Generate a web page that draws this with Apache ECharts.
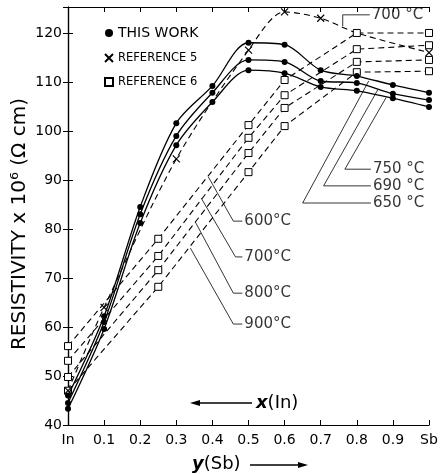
<!DOCTYPE html>
<html>
<head>
<meta charset="utf-8">
<script src="https://cdn.jsdelivr.net/npm/echarts@6/dist/echarts.min.js"></script>
<style>
html,body{margin:0;padding:0;background:#fff;}
#chart{width:441px;height:474px;}
</style>
</head>
<body>
<div id="chart"></div>
<script>
// x 轴：0 = In, 1 = Sb
var xTickLabels = ['In', '0.1', '0.2', '0.3', '0.4', '0.5', '0.6', '0.7', '0.8', '0.9', 'Sb'];

// THIS WORK (实线 + 实心点)
var workX = [0, 0.1, 0.2, 0.3, 0.4, 0.5, 0.6, 0.7, 0.8, 0.9, 1.0];
var work650 = [46.0, 62.2, 84.5, 101.6, 109.2, 118.0, 117.6, 112.4, 111.2, 109.4, 107.8];
var work690 = [44.5, 61.0, 83.0, 99.0, 107.8, 114.5, 114.1, 110.2, 109.8, 107.6, 106.3];
var work750 = [43.3, 59.6, 81.2, 97.1, 105.9, 112.4, 111.8, 109.0, 108.2, 106.7, 104.9];

// REFERENCE 5 (虚线 + x)
var ref5X = [0, 0.1, 0.3, 0.5, 0.6, 0.7, 0.8, 1.0];
var ref5 = [47.0, 64.0, 94.3, 116.5, 124.3, 123.0, 120.0, 116.0];

// REFERENCE 6 (虚线 + 空心方块)
var ref6X = [0, 0.25, 0.5, 0.6, 0.8, 1.0];
var ref6_600 = [56.1, 78.0, 101.2, 110.4, 120.0, 120.0];
var ref6_700 = [53.1, 74.5, 98.6, 107.3, 116.7, 117.5];
var ref6_800 = [49.8, 71.6, 95.5, 104.7, 114.1, 114.5];
var ref6_900 = [47.0, 68.2, 91.6, 101.0, 112.0, 112.2];

function pair(xs, ys) {
    var out = [];
    for (var i = 0; i < xs.length; i++) {
        out.push([xs[i], ys[i]]);
    }
    return out;
}

var FONT = 'DejaVu Sans';
var crossPath = 'path://M0,0L10,10M10,0L0,10';

function workSeries(data) {
    return {
        name: 'THIS WORK',
        type: 'line',
        data: pair(workX, data),
        smooth: 0.3,
        symbol: 'circle',
        symbolSize: 6,
        itemStyle: {color: '#000'},
        lineStyle: {color: '#000', width: 1.3},
        z: 4
    };
}

function ref6Series(data) {
    return {
        name: 'REFERENCE 6',
        type: 'line',
        data: pair(ref6X, data),
        symbol: 'rect',
        symbolSize: 7,
        itemStyle: {color: '#fff', borderColor: '#000', borderWidth: 1},
        lineStyle: {color: '#000', width: 1.1, type: [6, 4]},
        z: 3
    };
}

var ref5Data = pair(ref5X, ref5);
ref5Data[6] = {value: ref5Data[6], symbol: 'none'};

// 引线: 文字端 -> 拐点 -> 箭头端
var leaders = [
    [[0.483, 81.6], [0.458, 81.6], [0.389, 90.6]],
    [[0.483, 74.3], [0.464, 74.3], [0.369, 86.3]],
    [[0.483, 66.9], [0.458, 66.9], [0.353, 81.4]],
    [[0.483, 60.6], [0.458, 60.6], [0.339, 76.1]],
    [[0.839, 85.3], [0.650, 85.3], [0.833, 110.2]],
    [[0.839, 88.8], [0.708, 88.8], [0.858, 108.4]],
    [[0.839, 92.2], [0.767, 92.2], [0.881, 106.8]],
    [[0.836, 123.7], [0.761, 123.7], [0.761, 121.4]]
];
var leaderText = ['600°C', '700°C', '800°C', '900°C', '650 °C', '690 °C', '750 °C', '700 °C'];

var labelData = [];
for (var i = 0; i < leaders.length; i++) {
    labelData.push({name: leaderText[i], value: leaders[i][0]});
}

var myChart = echarts.init(document.getElementById('chart'));
var option = {
    backgroundColor: '#fff',
    animation: false,
    grid: {left: 68, right: 12, top: 7, bottom: 49},
    legend: {
        orient: 'vertical',
        left: 99,
        top: 21,
        itemWidth: 8,
        itemHeight: 8,
        itemGap: 12,
        textStyle: {fontFamily: FONT, fontSize: 14, color: '#000'},
        data: [
            {name: 'THIS WORK', icon: 'circle'},
            {name: 'REFERENCE 5', icon: crossPath, textStyle: {fontSize: 11.5}},
            {name: 'REFERENCE 6', icon: 'rect', textStyle: {fontSize: 11.5}}
        ]
    },
    xAxis: [
        {
            type: 'value', min: 0, max: 1, interval: 0.1,
            axisLine: {lineStyle: {color: '#000', width: 1.2}},
            axisTick: {inside: true, length: 5, lineStyle: {color: '#000'}},
            splitLine: {show: false},
            axisLabel: {
                color: '#000', fontFamily: FONT, fontSize: 14, margin: 8,
                formatter: function (v) { return xTickLabels[Math.round(v * 10)]; }
            }
        },
        {
            type: 'value', min: 0, max: 1, interval: 0.1, position: 'top',
            axisLine: {lineStyle: {color: '#000', width: 1.2}},
            axisTick: {inside: true, length: 5, lineStyle: {color: '#000'}},
            splitLine: {show: false},
            axisLabel: {show: false}
        }
    ],
    yAxis: [
        {
            type: 'value', min: 40, max: 125.3, interval: 10,
            axisLine: {show: true, lineStyle: {color: '#000', width: 1.2}},
            axisTick: {show: true, inside: true, length: 5, lineStyle: {color: '#000'}},
            splitLine: {show: false},
            axisLabel: {
                color: '#000', fontFamily: FONT, fontSize: 14, margin: 6, showMaxLabel: false
            }
        },
        {
            type: 'value', min: 40, max: 125.3, interval: 10, position: 'right',
            axisLine: {show: true, lineStyle: {color: '#000', width: 1.2}},
            axisTick: {show: true, inside: true, length: 5, lineStyle: {color: '#000'}},
            splitLine: {show: false},
            axisLabel: {show: false}
        }
    ],
    series: [
        ref6Series(ref6_600),
        ref6Series(ref6_700),
        ref6Series(ref6_800),
        ref6Series(ref6_900),
        {
            name: 'REFERENCE 5',
            type: 'line',
            data: ref5Data,
            smooth: 0.3,
            symbol: crossPath,
            symbolSize: 7,
            itemStyle: {color: 'rgba(0,0,0,0)', borderColor: '#000', borderWidth: 1.2},
            lineStyle: {color: '#000', width: 1.1, type: [6, 4]},
            z: 3
        },
        workSeries(work650),
        workSeries(work690),
        workSeries(work750),
        {
            type: 'lines',
            coordinateSystem: 'cartesian2d',
            polyline: true,
            symbol: ['none', 'arrow'],
            symbolSize: 6,
            silent: true,
            lineStyle: {color: '#000', width: 0.8, opacity: 1},
            data: leaders.map(function (c) { return {coords: c}; }),
            z: 5
        },
        {
            type: 'scatter',
            symbolSize: 0,
            silent: true,
            data: labelData,
            label: {
                show: true, position: 'right', distance: 2,
                formatter: '{b}', color: '#000', fontFamily: FONT, fontSize: 15
            },
            z: 6
        }
    ],
    graphic: [
        {
            type: 'text', x: 20, y: 224, rotation: Math.PI / 2,
            style: {
                text: 'RESISTIVITY x 10⁶ (Ω cm)', fill: '#000',
                font: '20px "DejaVu Sans"', align: 'center', verticalAlign: 'middle'
            }
        },
        {
            type: 'text', x: 192, y: 464,
            style: {
                text: '{i|y}{n|(Sb)}', fill: '#000', verticalAlign: 'middle',
                rich: {
                    i: {fontFamily: FONT, fontSize: 18, fontStyle: 'italic', fontWeight: 'bold'},
                    n: {fontFamily: FONT, fontSize: 18}
                }
            }
        },
        {type: 'line', shape: {x1: 250, y1: 465, x2: 302, y2: 465}, style: {stroke: '#000', lineWidth: 1.3}},
        {type: 'polygon', shape: {points: [[308, 465], [298, 462], [298, 468]]}, style: {fill: '#000'}},
        {type: 'line', shape: {x1: 196, y1: 403, x2: 252, y2: 403}, style: {stroke: '#000', lineWidth: 1.3}},
        {type: 'polygon', shape: {points: [[190, 403], [200, 400], [200, 406]]}, style: {fill: '#000'}},
        {
            type: 'text', x: 256, y: 403,
            style: {
                text: '{i|x}{n|(In)}', fill: '#000', verticalAlign: 'middle',
                rich: {
                    i: {fontFamily: FONT, fontSize: 18, fontStyle: 'italic', fontWeight: 'bold'},
                    n: {fontFamily: FONT, fontSize: 18}
                }
            }
        }
    ]
};
myChart.setOption(option);
</script>
</body>
</html>
